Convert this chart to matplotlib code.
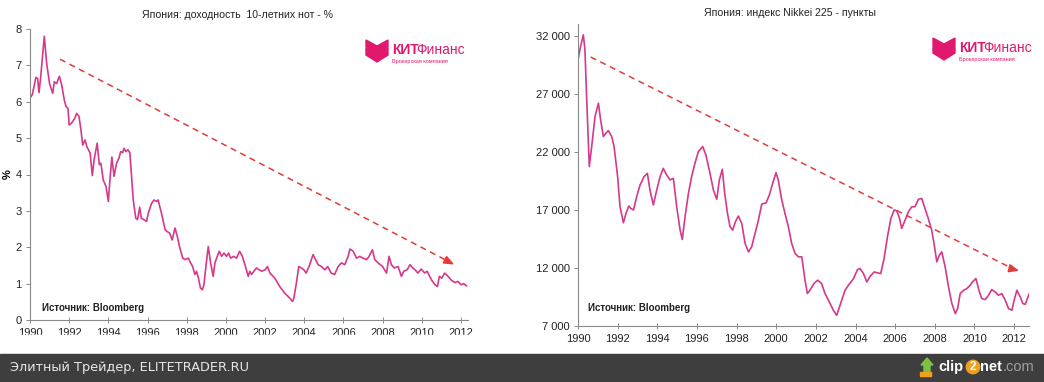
import numpy as np
import matplotlib
matplotlib.use("Agg")
import matplotlib.pyplot as plt
from matplotlib.patches import Rectangle, Polygon

plt.rcParams['font.family'] = ['Liberation Sans', 'DejaVu Sans']

# 10-летние JGB, %
jgb_year = [1990.0, 1990.12, 1990.3, 1990.39, 1990.46, 1990.55, 1990.73, 1990.85, 1991.0, 1991.16,
            1991.24, 1991.36, 1991.5, 1991.62, 1991.75, 1991.84, 1991.94, 1992.0, 1992.12, 1992.29,
            1992.38, 1992.5, 1992.6, 1992.69, 1992.81, 1992.9, 1993.07, 1993.18, 1993.27, 1993.43,
            1993.54, 1993.62, 1993.74, 1993.88, 1994.0, 1994.08, 1994.18, 1994.29, 1994.42, 1994.54,
            1994.63, 1994.73, 1994.8, 1994.9, 1995.0, 1995.1, 1995.2, 1995.27, 1995.4, 1995.49,
            1995.6, 1995.68, 1995.81, 1995.95, 1996.04, 1996.2, 1996.33, 1996.46, 1996.54, 1996.71,
            1996.9, 1997.0, 1997.13, 1997.26, 1997.4, 1997.52, 1997.65, 1997.8, 1997.91, 1998.08,
            1998.2, 1998.3, 1998.42, 1998.5, 1998.6, 1998.7, 1998.8, 1998.88, 1998.98, 1999.1,
            1999.22, 1999.35, 1999.44, 1999.56, 1999.66, 1999.78, 1999.9, 2000.03, 2000.14, 2000.24,
            2000.4, 2000.54, 2000.7, 2000.84, 2001.0, 2001.14, 2001.22, 2001.31, 2001.43, 2001.56,
            2001.7, 2001.83, 2002.0, 2002.12, 2002.25, 2002.5, 2002.75, 2003.0, 2003.26, 2003.4,
            2003.47, 2003.6, 2003.72, 2003.86, 2003.98, 2004.1, 2004.28, 2004.45, 2004.54, 2004.71,
            2004.88, 2005.05, 2005.2, 2005.37, 2005.55, 2005.73, 2005.9, 2006.07, 2006.24, 2006.33,
            2006.5, 2006.67, 2006.84, 2007.0, 2007.18, 2007.31, 2007.48, 2007.6, 2007.77, 2008.0,
            2008.2, 2008.33, 2008.45, 2008.6, 2008.79, 2008.96, 2009.08, 2009.25, 2009.4, 2009.54,
            2009.66, 2009.8, 2009.97, 2010.15, 2010.27, 2010.5, 2010.67, 2010.8, 2010.9, 2011.02,
            2011.17, 2011.34, 2011.5, 2011.68, 2011.85, 2012.0, 2012.14, 2012.28]
jgb_yield = [6.10, 6.20, 6.67, 6.64, 6.25, 6.70, 7.80, 7.05, 6.50, 6.23,
             6.55, 6.50, 6.70, 6.46, 6.05, 5.87, 5.82, 5.36, 5.41, 5.55,
             5.68, 5.60, 5.23, 4.81, 4.95, 4.77, 4.59, 3.97, 4.40, 4.86,
             4.27, 4.31, 3.85, 3.67, 3.26, 3.85, 4.48, 3.95, 4.31, 4.45,
             4.63, 4.60, 4.72, 4.63, 4.68, 4.59, 3.85, 3.30, 2.80, 2.76,
             3.10, 2.80, 2.76, 2.71, 2.94, 3.20, 3.30, 3.26, 3.30, 2.94,
             2.48, 2.43, 2.39, 2.20, 2.53, 2.30, 1.98, 1.70, 1.66, 1.70,
             1.57, 1.47, 1.25, 1.34, 1.15, 0.88, 0.83, 0.97, 1.47, 2.02,
             1.57, 1.20, 1.57, 1.75, 1.89, 1.75, 1.84, 1.75, 1.84, 1.70,
             1.75, 1.70, 1.89, 1.75, 1.47, 1.20, 1.34, 1.25, 1.34, 1.43,
             1.38, 1.34, 1.38, 1.47, 1.29, 1.15, 0.92, 0.74, 0.60, 0.51,
             0.60, 1.02, 1.47, 1.43, 1.38, 1.29, 1.52, 1.80, 1.70, 1.52,
             1.47, 1.38, 1.47, 1.29, 1.25, 1.47, 1.57, 1.52, 1.75, 1.95,
             1.89, 1.70, 1.75, 1.70, 1.66, 1.75, 1.93, 1.66, 1.57, 1.47,
             1.29, 1.75, 1.52, 1.43, 1.47, 1.20, 1.34, 1.38, 1.52, 1.43,
             1.38, 1.29, 1.40, 1.29, 1.34, 1.10, 0.97, 0.92, 1.20, 1.15,
             1.29, 1.20, 1.10, 1.03, 1.06, 0.97, 1.00, 0.94]

# Nikkei 225, пункты
nk_year = [1990.0, 1990.13, 1990.27, 1990.35, 1990.44, 1990.57, 1990.69, 1990.86, 1991.03, 1991.14,
           1991.28, 1991.41, 1991.53, 1991.7, 1991.82, 1992.0, 1992.12, 1992.29, 1992.42, 1992.56,
           1992.66, 1992.8, 1992.96, 1993.13, 1993.33, 1993.5, 1993.63, 1993.8, 1993.97, 1994.14,
           1994.3, 1994.47, 1994.64, 1994.81, 1994.98, 1995.15, 1995.26, 1995.4, 1995.57, 1995.73,
           1995.9, 1996.07, 1996.29, 1996.45, 1996.66, 1996.83, 1997.0, 1997.13, 1997.28, 1997.4,
           1997.54, 1997.67, 1997.8, 1997.94, 1998.09, 1998.26, 1998.43, 1998.6, 1998.76, 1998.93,
           1999.1, 1999.27, 1999.49, 1999.65, 1999.82, 1999.99, 2000.1, 2000.28, 2000.44, 2000.61,
           2000.78, 2000.95, 2001.12, 2001.29, 2001.45, 2001.57, 2001.7, 2001.9, 2002.09, 2002.29,
           2002.46, 2002.72, 2002.88, 2003.05, 2003.22, 2003.47, 2003.64, 2003.9, 2004.1, 2004.23,
           2004.4, 2004.57, 2004.74, 2004.94, 2005.11, 2005.27, 2005.44, 2005.61, 2005.78, 2005.95,
           2006.08, 2006.22, 2006.33, 2006.5, 2006.67, 2006.84, 2007.0, 2007.17, 2007.34, 2007.5,
           2007.67, 2007.84, 2007.96, 2008.1, 2008.23, 2008.35, 2008.52, 2008.69, 2008.86, 2009.03,
           2009.15, 2009.28, 2009.45, 2009.61, 2009.78, 2009.9, 2010.07, 2010.25, 2010.37, 2010.54,
           2010.71, 2010.87, 2011.04, 2011.21, 2011.38, 2011.55, 2011.72, 2011.89, 2012.0, 2012.14,
           2012.31, 2012.44, 2012.56, 2012.76]
nk_close = [29950, 31100, 32100, 30800, 26500, 20740, 22470, 25060, 26210, 24770,
            23330, 23620, 23850, 23330, 22470, 19870, 17280, 15900, 16710, 17340,
            17140, 17000, 18150, 19150, 19870, 20160, 18720, 17430, 18720, 19870,
            20590, 20020, 19590, 19730, 17280, 15270, 14460, 16420, 18430, 19870,
            21030, 22030, 22470, 21750, 20160, 18720, 17920, 19590, 20510, 18430,
            16710, 15560, 15270, 15990, 16480, 15840, 14110, 13390, 13820, 14980,
            16130, 17510, 17620, 18290, 19300, 20220, 19590, 17860, 16710, 15560,
            14110, 13250, 12960, 12960, 10950, 9800, 10080, 10660, 10950, 10660,
            9800, 8930, 8360, 7920, 8790, 10080, 10510, 11090, 11870, 11950,
            11520, 10800, 11290, 11660, 11580, 11520, 12820, 14690, 16270, 17000,
            16930, 16270, 15410, 16130, 16850, 17280, 17280, 17920, 18000, 17140,
            16270, 15270, 14110, 12530, 13110, 13390, 12100, 10370, 8930, 8070,
            8500, 9800, 10080, 10220, 10510, 10800, 11090, 9940, 9360, 9280,
            9650, 10140, 9940, 9650, 9790, 9220, 8500, 8360, 9220, 10080,
            9500, 8930, 8870, 9790]

year_ticks = list(range(1990, 2013, 2))
jgb_ticks = [0, 1, 2, 3, 4, 5, 6, 7, 8]
nk_ticks = [7000, 12000, 17000, 22000, 27000, 32000]
nk_tick_labels = ['7 000', '12 000', '17 000', '22 000', '27 000', '32 000']

line_col = '#d6388a'
arrow_col = '#e23b3b'
logo_col = '#e0196e'

W, H = 1044, 382
fig = plt.figure(figsize=(W / 100, H / 100), dpi=100)
fig.patch.set_facecolor('white')


def px_axes(x0, y_top, x1, y_bot):
    return fig.add_axes([x0 / W, 1 - y_bot / H, (x1 - x0) / W, (y_bot - y_top) / H])


def style(ax):
    for s in ['top', 'right']:
        ax.spines[s].set_visible(False)
    for s in ['left', 'bottom']:
        ax.spines[s].set_color('#8a8a8a')
        ax.spines[s].set_linewidth(0.8)
    ax.tick_params(axis='both', labelsize=8, colors='#8a8a8a', labelcolor='#222222',
                   length=3, width=0.7, direction='out', pad=3)
    ax.tick_params(axis='x', direction='inout', length=5, pad=3)
    ax.set_xticks(year_ticks)
    ax.set_xticklabels([str(y) for y in year_ticks])


# левый график
ax1 = px_axes(30, 29, 468, 320)
ax1.plot(jgb_year, jgb_yield, color=line_col, lw=1.2)
ax1.set_xlim(1990, 2012.36)
ax1.set_ylim(0, 8)
ax1.set_yticks(jgb_ticks)
style(ax1)
ax1.set_ylabel('%', fontsize=8, fontweight='bold', labelpad=2)
ax1.plot([1991.53, 2011.4], [7.17, 1.6], ls=(0, (4, 3)), color=arrow_col, lw=1.1)
ax1.annotate('', xy=(2011.78, 1.49), xytext=(2011.1, 1.68),
             arrowprops=dict(arrowstyle='-|>,head_length=0.6,head_width=0.25',
                             color=arrow_col, lw=1.1))
ax1.text(0.027, 0.03, 'Источник: Bloomberg', transform=ax1.transAxes,
         fontsize=7, fontweight='bold', color='#222222')

# правый график
ax2 = px_axes(578, 24.4, 1029, 326)
ax2.plot(nk_year, nk_close, color=line_col, lw=1.2)
ax2.set_xlim(1990, 2012.75)
ax2.set_ylim(7000, 33000)
ax2.set_yticks(nk_ticks)
ax2.set_yticklabels(nk_tick_labels)
style(ax2)
ax2.plot([1990.64, 2012.0], [30190, 11880], ls=(0, (4, 3)), color=arrow_col, lw=1.1)
ax2.annotate('', xy=(2012.39, 11710), xytext=(2011.7, 12000),
             arrowprops=dict(arrowstyle='-|>,head_length=0.6,head_width=0.25',
                             color=arrow_col, lw=1.1))
ax2.text(0.022, 0.05, 'Источник: Bloomberg', transform=ax2.transAxes,
         fontsize=7, fontweight='bold', color='#222222')

# заголовки
fig.text(237 / W, 1 - 15 / H, 'Япония: доходность  10-летних нот - %', ha='center', va='center',
         fontsize=7.6, color='#222222')
fig.text(790 / W, 1 - 13 / H, 'Япония: индекс Nikkei 225 - пункты', ha='center', va='center',
         fontsize=7.6, color='#222222')


# логотипы
def logo(x, y):
    # x, y: левый верх шеврона в пикселях
    for dy in (0, 8):
        pts = [(x, y + dy), (x + 11, y + 6 + dy), (x + 22, y + dy), (x + 22, y + 7 + dy),
               (x + 11, y + 14 + dy), (x, y + 7 + dy)]
        fig.patches.append(Polygon([(px / W, 1 - py / H) for px, py in pts], closed=True,
                                   transform=fig.transFigure, color=logo_col))
    fig.text((x + 26) / W, 1 - (y + 10) / H, 'КИТ', fontsize=10, fontweight='bold',
             color=logo_col, va='center', ha='left')
    fig.text((x + 50) / W, 1 - (y + 10) / H, 'Финанс', fontsize=10, color=logo_col,
             va='center', ha='left')
    fig.text((x + 26) / W, 1 - (y + 22) / H, 'Брокерская компания', fontsize=4,
             color=logo_col, va='center', ha='left')


logo(366, 40)
logo(933, 38)

# обрезка подписей оси X, как на скриншоте
fig.patches.append(Rectangle((0, 18 / H), 540 / W, 29 / H, transform=fig.transFigure,
                             color='white', zorder=9))
fig.patches.append(Rectangle((540 / W, 18 / H), 1 - 540 / W, 20 / H, transform=fig.transFigure,
                             color='white', zorder=9))

# нижняя полоса
fig.patches.append(Rectangle((0, 0), 1, 28 / H, transform=fig.transFigure,
                             color='#3e3e3e', zorder=10))
fig.text(10 / W, 14 / H, 'Элитный Трейдер, ELITETRADER.RU', fontsize=9.3,
         family='DejaVu Sans', color='#e6e6e6', va='center', zorder=11)

# значок clip2net
ix, iy = 921, 358
arrow_pts = [(ix + 6, iy), (ix + 12, iy + 7), (ix + 9, iy + 7), (ix + 9, iy + 14),
             (ix + 3, iy + 14), (ix + 3, iy + 7), (ix, iy + 7)]
fig.patches.append(Polygon([(px / W, 1 - py / H) for px, py in arrow_pts], closed=True,
                           transform=fig.transFigure, color='#7cc242', zorder=11))
fig.patches.append(Rectangle(((ix - 1) / W, 1 - (iy + 18) / H), 11 / W, 4 / H,
                             transform=fig.transFigure, color='#f0a020', zorder=11))
fig.text(938 / W, 15 / H, 'clip', fontsize=10.5, color='white', va='center', ha='left',
         fontweight='bold', zorder=11)
fig.text(973 / W, 15 / H, '2', fontsize=8.5, color='white', va='center', ha='center',
         fontweight='bold', zorder=12,
         bbox=dict(boxstyle='circle,pad=0.12', fc='#f0a020', ec='none'))
fig.text(980 / W, 15 / H, 'net', fontsize=10.5, color='white', va='center', ha='left',
         fontweight='bold', zorder=11)
fig.text(1003 / W, 15 / H, '.com', fontsize=10.5, color='#a0a0a0', va='center', ha='left',
         zorder=11)

fig.savefig('out.png', dpi=100)
